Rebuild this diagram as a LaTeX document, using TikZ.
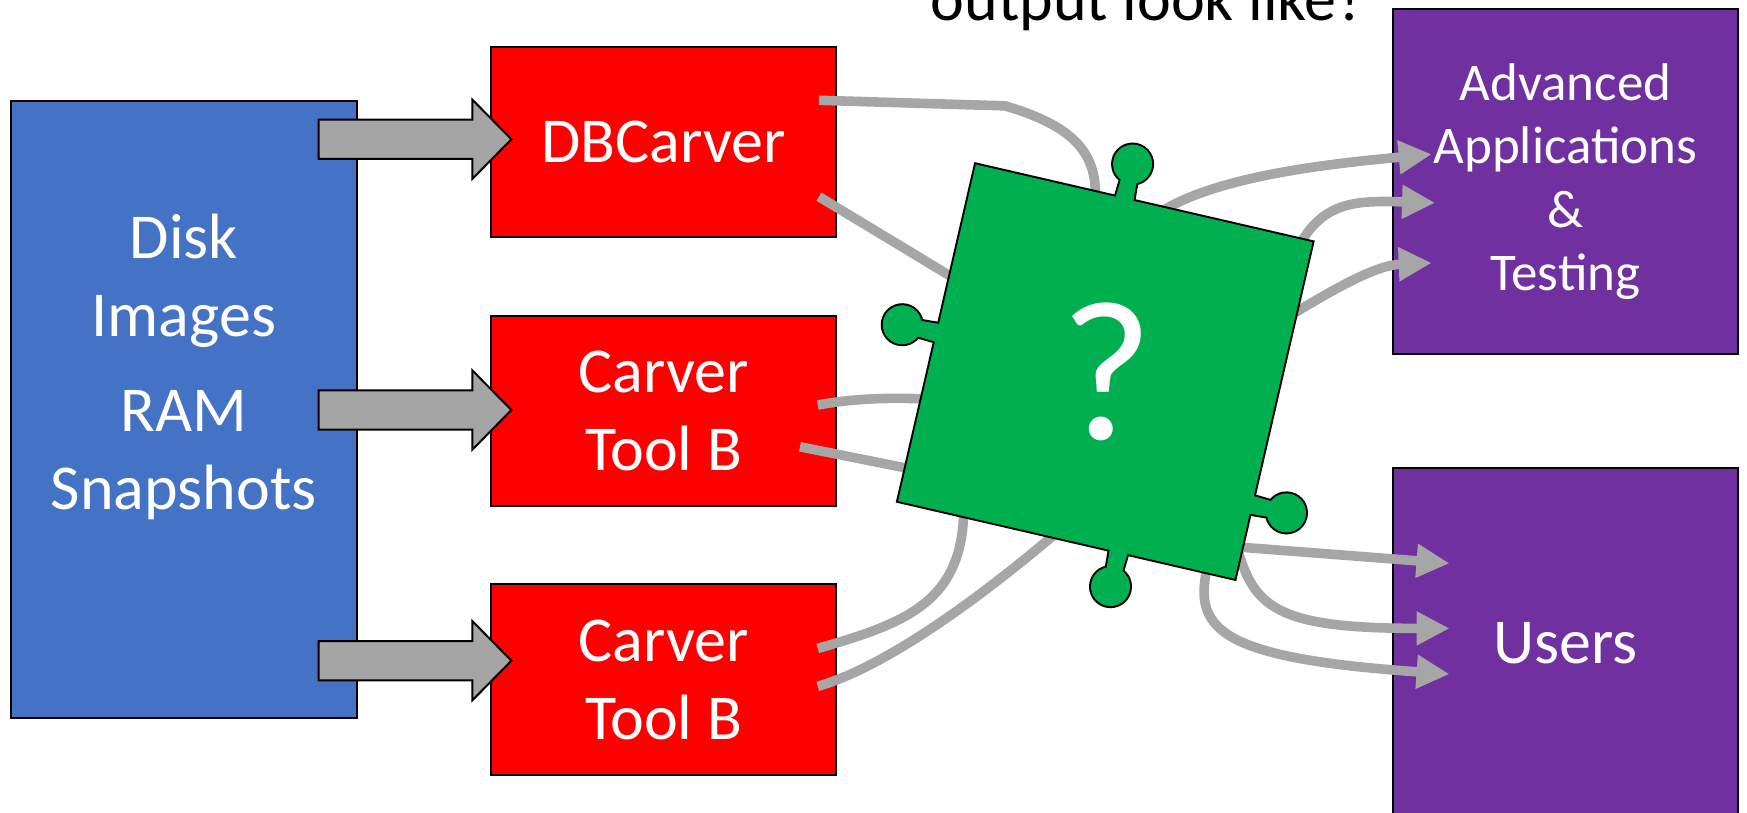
\documentclass[tikz,border=0pt]{standalone}
\usepackage{fontspec}
\setmainfont{Carlito}
\usetikzlibrary{calc,arrows.meta}

\newlength\ux
\setlength\ux{0.55708pt}

\definecolor{srcblue}{HTML}{4472C4}
\definecolor{toolred}{HTML}{FF0000}
\definecolor{mixgreen}{HTML}{00B050}
\definecolor{outpurple}{HTML}{7030A0}
\definecolor{wiregray}{HTML}{A6A6A6}
\definecolor{pipegray}{HTML}{A5A5A5}

\tikzset{
  box/.style={draw=black, line width=1pt, inner sep=0pt, outer sep=0pt,
    text=white, align=center, font=\fontsize{32}{39}\selectfont},
  srcbox/.style={box, fill=srcblue, minimum width=310*\ux, minimum height=553*\ux},
  toolbox/.style={box, fill=toolred, minimum width=309*\ux, minimum height=171*\ux},
  outbox/.style={box, fill=outpurple, minimum width=310*\ux},
  pipe/.style={fill=pipegray, draw=black, line width=1pt, line join=miter},
  wire/.style={draw=wiregray, line width=4.8pt},
  feed/.style={wire, -{Triangle[length=16.5pt,width=16pt]}},
}

% wide block arrow from #1 (tail) to #2 (tip), horizontal
\newcommand\blockarrow[2]{%
  \draw[pipe] let \p1=(#1), \p2=(#2) in
    (\x1,{\y1+9.8pt}) -- ({\x2-19.5pt},{\y1+9.8pt}) -- ({\x2-19.5pt},{\y1+19.8pt})
    -- (\x2,\y1) -- ({\x2-19.5pt},{\y1-19.8pt}) -- ({\x2-19.5pt},{\y1-9.8pt})
    -- (\x1,{\y1-9.8pt}) -- cycle;}

% body of the tilted puzzle piece (local frame, y down)
\newcommand\pzbody{(-155,-155) -- (155,-155) -- (155,155) -- (-155,155) -- cycle}
% its four knobs: rotation of the side / offset along that side
\newcommand\pzknobs[1]{%
  \foreach \r/\s in {0/-18, 90/0, -90/87, 180/-48}{
    \begin{scope}[rotate=\r]
      \path[#1] ({\s-8.5},-148) -- ({\s+8.5},-148) -- ({\s+7},-174) -- ({\s-7},-174) -- cycle;
      \path[#1] (\s,-187) circle[radius=17.5];
    \end{scope}}}

\begin{document}
\begin{tikzpicture}[x=\ux, y=-\ux]
\useasboundingbox (0,0) rectangle (1568,729);
\clip (0,0) rectangle (1568,729);

% sources
\node[srcbox] (src) at (165,367.5) {};
\node[text=white, align=center, inner sep=0pt, font=\fontsize{32}{39}\selectfont]
  (srclabel) at (165,329) {Disk\\Images\\[8.4pt]RAM\\Snapshots};

% carvers
\node[toolbox] (db)  at (595.5,127.5) {DBCarver};
\node[toolbox] (cb1) at (595.5,369)   {Carver\\Tool B};
\node[toolbox] (cb2) at (595.5,610)   {Carver\\Tool B};

% consumers
\node[outbox, minimum height=310*\ux, font=\fontsize{26.5}{31.75}\selectfont]
  (adv) at (1405,163) {Advanced\\Applications\\\&\\Testing};
\node[outbox, minimum height=314*\ux] (users) at (1405,577) {Users};

% block arrows from the sources into the carvers
\coordinate (t1) at ($(src.north east)+(-34,34)$);
\coordinate (h1) at ($(db.west)+(18,-2.5)$);
\coordinate (t2) at ($(src.east)+(-34,0.5)$);
\coordinate (h2) at ($(cb1.west)+(18,-1)$);
\coordinate (t3) at ($(src.south east)+(-34,-51)$);
\coordinate (h3) at ($(cb2.west)+(18,-17)$);
\blockarrow{t1}{h1}
\blockarrow{t2}{h2}
\blockarrow{t3}{h3}

% centre of the unknown component
\coordinate (q) at (992,333.5);

% wire ends on the carvers
\coordinate (d1)  at ($(db.east)+(-15,-37.5)$);
\coordinate (d2)  at ($(db.east)+(-15,49)$);
\coordinate (b1a) at ($(cb1.east)+(-16,-5.5)$);
\coordinate (b1b) at ($(cb1.east)+(-32,32)$);
\coordinate (b2a) at ($(cb2.east)+(-16,-28)$);
\coordinate (b2b) at ($(cb2.east)+(-16,6)$);

% wire ends tucked under the component
\coordinate (g1)  at ($(q)+(-9,-155.5)$);
\coordinate (g2)  at ($(q)+(-132,-81.5)$);
\coordinate (g3)  at ($(q)+(-160,24.5)$);
\coordinate (g4)  at ($(q)+(-174,87.5)$);
\coordinate (g5)  at ($(q)+(-127,121.5)$);
\coordinate (g6)  at ($(q)+(-40,141.5)$);
\coordinate (g7)  at ($(q)+(50,-143.5)$);
\coordinate (g8)  at ($(q)+(176,-116.5)$);
\coordinate (g9)  at ($(q)+(168,-51.5)$);
\coordinate (g10) at ($(q)+(120,157.5)$);
\coordinate (g11) at ($(q)+(120,163.5)$);
\coordinate (g12) at ($(q)+(91,178.5)$);

% arrow tips on the consumers
\coordinate (a7)  at ($(adv.west)+(35,-24.5)$);
\coordinate (a8)  at ($(adv.west)+(38,19)$);
\coordinate (a9)  at ($(adv.west)+(35,73)$);
\coordinate (u10) at ($(users.west)+(51,-71.4)$);
\coordinate (u11) at ($(users.west)+(51,-13)$);
\coordinate (u12) at ($(users.west)+(51,28)$);

% incoming wires
\draw[wire] (d1) -- ++(167,5) .. controls +(58,17) and +(2,-43) .. (g1);
\draw[wire] (d2) -- (g2);
\draw[wire] (b1a) .. controls +(36,-6.5) and +(-32,-1) .. (g3);
\draw[wire] (b1b) -- (g4);
\draw[wire] (b2a) .. controls +(80,-23) and +(0,85) .. (g5);
\draw[wire] (b2b) .. controls +(56,-16) and +(-82,70) .. (g6);

% outgoing wires
\draw[feed] (g7) .. controls +(48,-30) and +(-105,9.5) .. (a7);
\draw[feed] (g8) .. controls +(22,-37) and +(-68,-2) .. (a8);
\draw[feed] (g9) .. controls +(40,-24) and +(-50,2) .. (a9);
\draw[feed] (g10) -- (u10);
\draw[feed] (g11) .. controls +(15,50) and +(-150,0) .. (u11);
\draw[feed] (g12) .. controls +(-12,55) and +(-200,-14) .. (u12);

% the puzzle piece: outline of every part first, then the fills over it
\begin{scope}[shift={(q)}, rotate=-13]
  \path[draw=black, line width=2pt] \pzbody;
  \pzknobs{draw=black, line width=2pt}
  \path[fill=mixgreen] \pzbody;
  \pzknobs{fill=mixgreen}
\end{scope}
\node[text=white, inner sep=0pt, font=\fontsize{100}{100}\selectfont] (qmark) at (993,334) {?};

% heading line
\node[anchor=base, inner sep=0pt, font=\fontsize{32}{40}\selectfont] (title) at (1031,18.5) {output look like?};
\end{tikzpicture}
\end{document}
